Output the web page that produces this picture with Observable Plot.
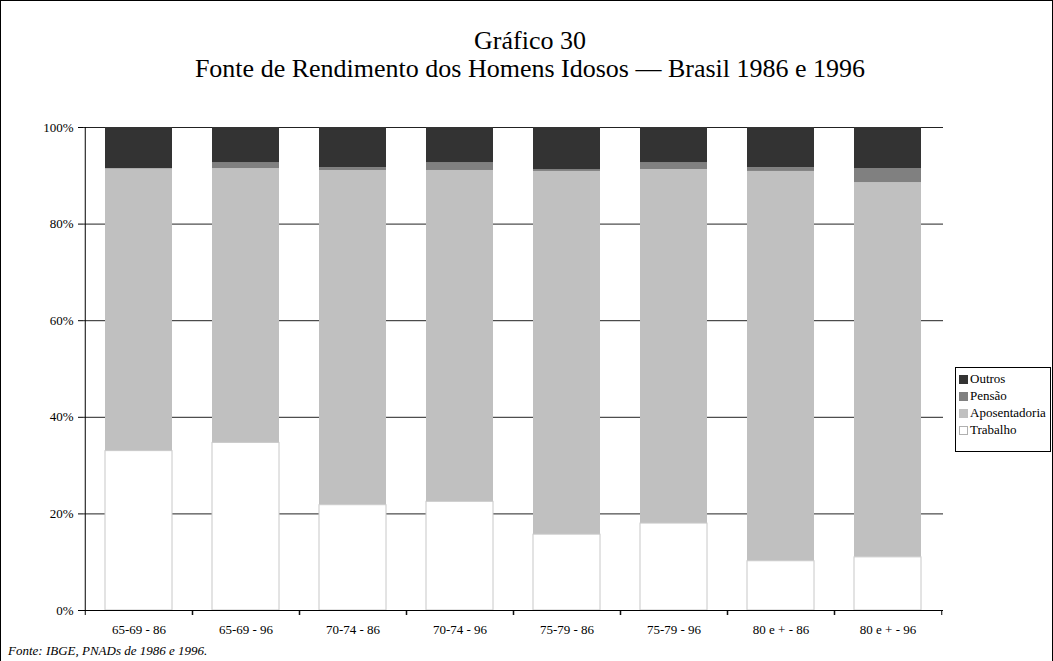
<!DOCTYPE html>
<html>
<head>
<meta charset="utf-8">
<script src="https://cdn.jsdelivr.net/npm/d3@7"></script>
<script src="https://cdn.jsdelivr.net/npm/@observablehq/plot@0.6"></script>
<style>
  html, body { margin: 0; padding: 0; background: #fff; }
  #wrap { position: relative; width: 1053px; height: 661px; overflow: hidden; font-family: "Liberation Serif", "Times New Roman", serif; color: #000; }
  #frame { position: absolute; left: 0px; top: 0px; width: 1053px; height: 700px; border: 1px solid #000; box-sizing: border-box; }
  #title { position: absolute; left: 0px; width: 1060px; top: 27px; text-align: center; font-size: 26px; line-height: 28px; }
  #chart { position: absolute; left: 0; top: 0; }
  #legend { position: absolute; left: 955px; top: 367px; width: 96px; height: 85px; border: 1px solid #000; box-sizing: border-box; padding: 2px 0 0 3px; font-size: 13px; }
  .li { height: 17px; line-height: 17px; white-space: nowrap; }
  .sw { display: inline-block; width: 9px; height: 9px; margin-right: 2px; vertical-align: -1px; box-sizing: border-box; }
  #note { position: absolute; left: 8px; top: 643px; font-size: 13px; font-style: italic; }
</style>
</head>
<body>
<div id="wrap">
  <div id="frame"></div>
  <div id="chart"></div>
  <div id="title">Gráfico 30<br>Fonte de Rendimento dos Homens Idosos — Brasil 1986 e 1996</div>
  <div id="legend"></div>
  <div id="note">Fonte: IBGE, PNADs de 1986 e 1996.</div>
</div>
<script>
const categories = ["65-69 - 86", "65-69 - 96", "70-74 - 86", "70-74 - 96", "75-79 - 86", "75-79 - 96", "80 e + - 86", "80 e + - 96"];
const trabalho      = [33.0, 34.7, 21.8, 22.5, 15.7, 18.0, 10.2, 11.0];
const aposentadoria = [58.4, 56.8, 69.3, 68.6, 75.2, 73.3, 80.7, 77.6];
const pensao        = [0.1, 1.25, 0.6, 1.65, 0.4, 1.45, 0.8, 2.9];
const outros        = [8.5, 7.25, 8.3, 7.25, 8.7, 7.25, 8.3, 8.5];
const seriesNames   = ["Trabalho", "Aposentadoria", "Pensão", "Outros"];
const seriesColors  = ["#ffffff", "#c0c0c0", "#808080", "#333333"];
const legendOrder   = ["Outros", "Pensão", "Aposentadoria", "Trabalho"];
const yTicks        = [0, 20, 40, 60, 80, 100];

const seriesValues = [trabalho, aposentadoria, pensao, outros];
const rows = [];
seriesNames.forEach((s, si) => categories.forEach((c, ci) => rows.push({cat: c, serie: s, value: seriesValues[si][ci]})));
const trabRows = rows.filter(d => d.serie === "Trabalho");

const W = 1053, H = 661, mL = 83, mR = 110, mT = 127, mB = 51;
const step = (W - mL - mR) / categories.length;

const chart = Plot.plot({
  width: W, height: H,
  marginLeft: mL, marginRight: mR, marginTop: mT, marginBottom: mB,
  style: {fontFamily: '"Liberation Serif", "Times New Roman", serif', fontSize: "13px", color: "#000", background: "transparent"},
  x: {domain: categories, paddingInner: 0.377, paddingOuter: 0.1885, align: 0.5, label: null},
  y: {domain: [0, 100], label: null},
  color: {domain: seriesNames, range: seriesColors},
  marks: [
    Plot.ruleY(yTicks.filter(t => t > 0), {stroke: "#222", strokeWidth: 1}),
    Plot.barY(rows, Plot.stackY({x: "cat", y: "value", z: "serie", order: seriesNames, fill: "serie"})),
    Plot.barY(trabRows, {x: "cat", y: "value", fill: "#fff", stroke: "#c8c8c8", strokeWidth: 1}),
    Plot.ruleY([0], {stroke: "#000"}),
    Plot.ruleX([categories[0]], {x: d => d, y1: 0, y2: 100, dx: -step / 2, stroke: "#000"}),
    Plot.axisY({ticks: yTicks, tickSize: 5, tickPadding: 5, tickFormat: d => d + "%", fontSize: 13, label: null}),
    Plot.axisX({tickSize: 0, tickPadding: 14, fontSize: 13, label: null}),
    Plot.axisX({tickSize: 5, tickFormat: () => "", dx: -step / 2, label: null}),
    Plot.axisX({tickSize: 5, tickFormat: () => "", dx: step / 2, label: null})
  ]
});
document.getElementById("chart").appendChild(chart);

const legend = document.getElementById("legend");
legendOrder.forEach(name => {
  const i = seriesNames.indexOf(name);
  const item = document.createElement("div");
  item.className = "li";
  const sw = document.createElement("span");
  sw.className = "sw";
  sw.style.background = seriesColors[i];
  if (name === "Trabalho") sw.style.border = "1px solid #b0b0b0";
  item.appendChild(sw);
  item.appendChild(document.createTextNode(name));
  legend.appendChild(item);
});
</script>
</body>
</html>
